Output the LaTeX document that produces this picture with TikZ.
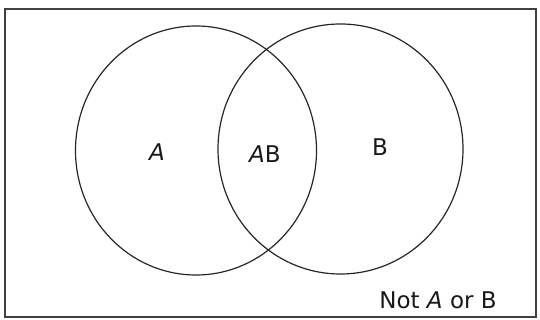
\documentclass[tikz,border=0pt]{standalone}
\usepackage{fontspec}
\setmainfont{DejaVu Sans}
\begin{document}
\begin{tikzpicture}[x=1pt,y=-1pt,
  ring/.style={draw=black!85,line width=1.2pt},
  lbl/.style={font=\fontsize{23}{26}\selectfont,text=black!90,inner sep=0pt}]
\useasboundingbox (0,0) rectangle (540,320);
\draw[draw=black!75,line width=1.5pt] (5,9) rectangle (536,317);
\draw[ring] (196,150.5) ellipse [x radius=120.5, y radius=124.5];
\draw[ring] (340.5,149) ellipse [x radius=122.5, y radius=125];
\node[lbl] (a) at (157,152) {\itshape A};
\node[lbl] (ab) at (265,154) {\itshape A\upshape B};
\node[lbl] (b) at (380,147) {B};
\node[lbl] (n) at (438,300) {Not \itshape A\upshape\ or B};
\end{tikzpicture}
\end{document}
